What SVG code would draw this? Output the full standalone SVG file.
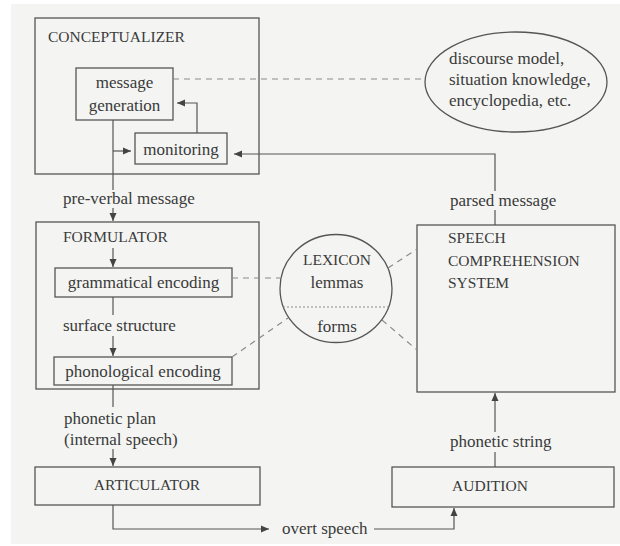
<svg xmlns="http://www.w3.org/2000/svg" width="620" height="546" viewBox="0 0 620 546">
<defs>
<style>
.box{fill:none;stroke:#555;stroke-width:1.3}
.line{fill:none;stroke:#555;stroke-width:1.2}
.dash{fill:none;stroke:#8a8a8a;stroke-width:1.2;stroke-dasharray:6 5}
.dot{fill:none;stroke:#8a8a8a;stroke-width:1.2;stroke-dasharray:2 2}
.t{font-family:'Liberation Serif','DejaVu Serif','Times New Roman',Times,serif;fill:#3a3a3a}
.lc{font-size:17px}
.uc{font-size:15.5px}
.mid{text-anchor:middle}
</style>
<marker id="ah" viewBox="0 0 8 8" refX="8" refY="4" markerWidth="8" markerHeight="8" markerUnits="userSpaceOnUse" orient="auto">
<path d="M0,0.5 L8,4 L0,7.5 Z" fill="#444"/>
</marker>
</defs>
<rect width="620" height="546" fill="#ffffff"/>
<rect x="11" y="4" width="609" height="540" fill="#f4f5f3"/>

<g font-family="Liberation Serif, DejaVu Serif, serif">
<g id="conceptualizer">
<rect class="box" x="35" y="18" width="224" height="156"/>
<text class="t uc" x="48" y="42">CONCEPTUALIZER</text>
</g>
<g id="message-generation">
<rect class="box" x="76" y="68" width="97" height="52"/>
<text class="t lc mid" x="124.5" y="88">message</text>
<text class="t lc mid" x="124.5" y="111">generation</text>
</g>
<g id="monitoring">
<rect class="box" x="135" y="133" width="92" height="31"/>
<text class="t lc mid" x="181" y="155">monitoring</text>
</g>
<g id="knowledge">
<ellipse class="box" cx="516" cy="82" rx="91" ry="50"/>
<text class="t lc" x="449" y="64">discourse model,</text>
<text class="t lc" x="449" y="85">situation knowledge,</text>
<text class="t lc" x="449" y="106">encyclopedia, etc.</text>
</g>
<g id="formulator">
<rect class="box" x="36" y="222" width="223" height="167"/>
<text class="t uc" x="63" y="242">FORMULATOR</text>
</g>
<g id="grammatical-encoding">
<rect class="box" x="55" y="268" width="177" height="29"/>
<text class="t lc mid" x="143.5" y="288">grammatical encoding</text>
</g>
<g id="phonological-encoding">
<rect class="box" x="54" y="357" width="178" height="28"/>
<text class="t lc mid" x="143" y="377">phonological encoding</text>
</g>
<g id="lexicon">
<ellipse class="box" cx="336" cy="288.5" rx="56" ry="54"/>
<line class="dot" x1="283" y1="307" x2="389" y2="307"/>
<text class="t uc mid" x="337" y="265">LEXICON</text>
<text class="t lc mid" x="337" y="288">lemmas</text>
<text class="t lc mid" x="337" y="332">forms</text>
</g>
<g id="speech-comprehension">
<rect class="box" x="417" y="225" width="198" height="167"/>
<text class="t uc" x="448" y="243">SPEECH</text>
<text class="t uc" x="448" y="266">COMPREHENSION</text>
<text class="t uc" x="448" y="288">SYSTEM</text>
</g>
<g id="articulator">
<rect class="box" x="35" y="467" width="225" height="38"/>
<text class="t uc mid" x="147" y="490">ARTICULATOR</text>
</g>
<g id="audition">
<rect class="box" x="392" y="467" width="222" height="40"/>
<text class="t uc mid" x="490" y="491">AUDITION</text>
</g>

<g id="connectors">
<line class="dash" x1="173" y1="79" x2="425" y2="79"/>
<line class="dash" x1="232" y1="278" x2="280" y2="278"/>
<line class="dash" x1="232" y1="357" x2="288" y2="318"/>
<line class="dash" x1="388" y1="268" x2="417" y2="249"/>
<line class="dash" x1="382" y1="320" x2="417" y2="350"/>

<path class="line" d="M197,133 V103 H177" marker-end="url(#ah)"/>
<path class="line" d="M113,120 V190"/>
<path class="line" d="M113,151 H131" marker-end="url(#ah)"/>
<text class="t lc" x="63" y="204">pre-verbal message</text>
<path class="line" d="M113,208 V221" marker-end="url(#ah)"/>
<path class="line" d="M113,248 V267" marker-end="url(#ah)"/>
<path class="line" d="M113,297 V315"/>
<text class="t lc" x="63" y="331">surface structure</text>
<path class="line" d="M113,336 V356" marker-end="url(#ah)"/>
<path class="line" d="M113,385 V407"/>
<text class="t lc" x="64" y="424">phonetic plan</text>
<text class="t lc" x="64" y="445">(internal speech)</text>
<path class="line" d="M113,449 V466" marker-end="url(#ah)"/>
<path class="line" d="M113,505 V529 H269" marker-end="url(#ah)"/>
<text class="t lc" x="282" y="534">overt speech</text>
<path class="line" d="M374,529 H454 V508" marker-end="url(#ah)"/>
<path class="line" d="M495,467 V452"/>
<text class="t lc" x="450" y="447">phonetic string</text>
<path class="line" d="M495,432 V393" marker-end="url(#ah)"/>
<path class="line" d="M495,225 V210"/>
<text class="t lc" x="450" y="206">parsed message</text>
<path class="line" d="M495,191 V154 H234" marker-end="url(#ah)"/>
</g>
</g>
</svg>
